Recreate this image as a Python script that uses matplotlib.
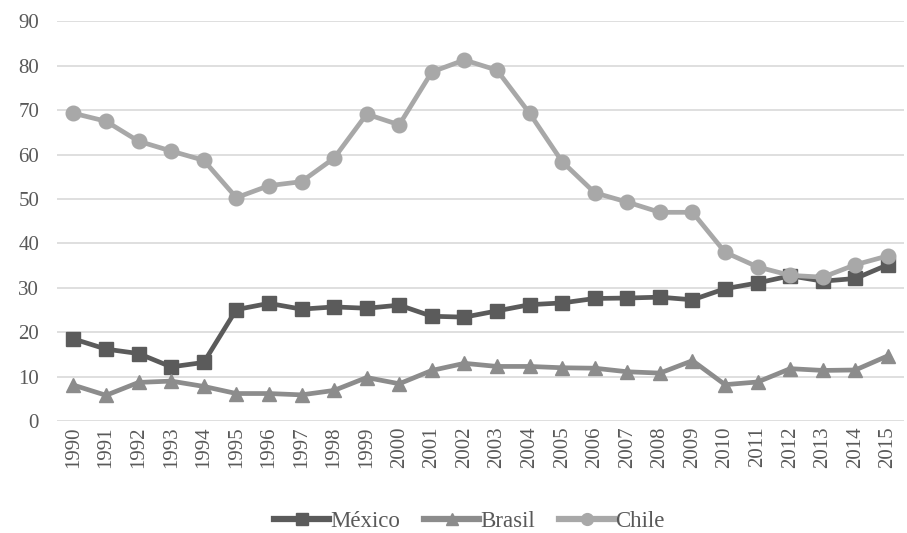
import numpy as np
import matplotlib
matplotlib.use('Agg')
import matplotlib.pyplot as plt

years = list(range(1990, 2016))
mexico = [18.5, 16.2, 15.2, 12.2, 13.2, 25.1, 26.5, 25.2, 25.7, 25.4, 26.1, 23.6, 23.4, 24.8, 26.2, 26.6, 27.6, 27.7, 27.9, 27.3, 29.8, 31.1, 32.7, 31.5, 32.1, 35.2]
brasil = [8.1, 5.8, 8.7, 9.0, 7.8, 6.2, 6.2, 5.9, 6.9, 9.8, 8.4, 11.4, 13.0, 12.3, 12.3, 12.0, 11.9, 11.1, 10.8, 13.6, 8.2, 8.8, 11.8, 11.4, 11.5, 14.7]
chile = [69.3, 67.5, 63.0, 60.8, 58.7, 50.3, 53.0, 53.9, 59.2, 69.1, 66.7, 78.6, 81.3, 79.0, 69.3, 58.4, 51.4, 49.3, 47.0, 47.0, 38.0, 34.7, 32.8, 32.4, 35.2, 37.2]

plt.rcParams['font.family'] = ['Liberation Serif', 'DejaVu Serif']
txt = '#595959'

fig = plt.figure(figsize=(9.07, 5.33), dpi=100)
ax = fig.add_axes([0.063, 0.21, 0.934, 0.75])

x = np.arange(len(years))
ax.plot(x, mexico, color='#5b5b5b', lw=3.4, marker='s', ms=9.5, label='México', zorder=3)
ax.plot(x, brasil, color='#8c8c8c', lw=3.4, marker='^', ms=10, label='Brasil', zorder=3)
ax.plot(x, chile, color='#a8a8a8', lw=3.4, marker='o', ms=10.5, label='Chile', zorder=4)

ax.set_ylim(0, 90)
ax.set_yticks(range(0, 91, 10))
ax.set_xlim(-0.5, len(years) - 0.5)
ax.set_xticks(x)
ax.set_xticklabels([str(y) for y in years], rotation=90)
ax.grid(axis='y', color='#d9d9d9', lw=1.2)
ax.set_axisbelow(True)
for s in ax.spines.values():
    s.set_visible(False)
ax.tick_params(length=0, labelsize=15, labelcolor=txt)
ax.tick_params(axis='y', pad=13)
ax.tick_params(axis='x', pad=4)

leg = ax.legend(loc='center', bbox_to_anchor=(0.487, -0.25), ncol=3, frameon=False,
                fontsize=16.5, labelcolor=txt, handlelength=2.4, handletextpad=0.05,
                columnspacing=1.05)
for h in leg.get_lines():
    h.set_linewidth(4.5)
    h.set_markersize(8.5)

fig.savefig('out.png', dpi=100)
